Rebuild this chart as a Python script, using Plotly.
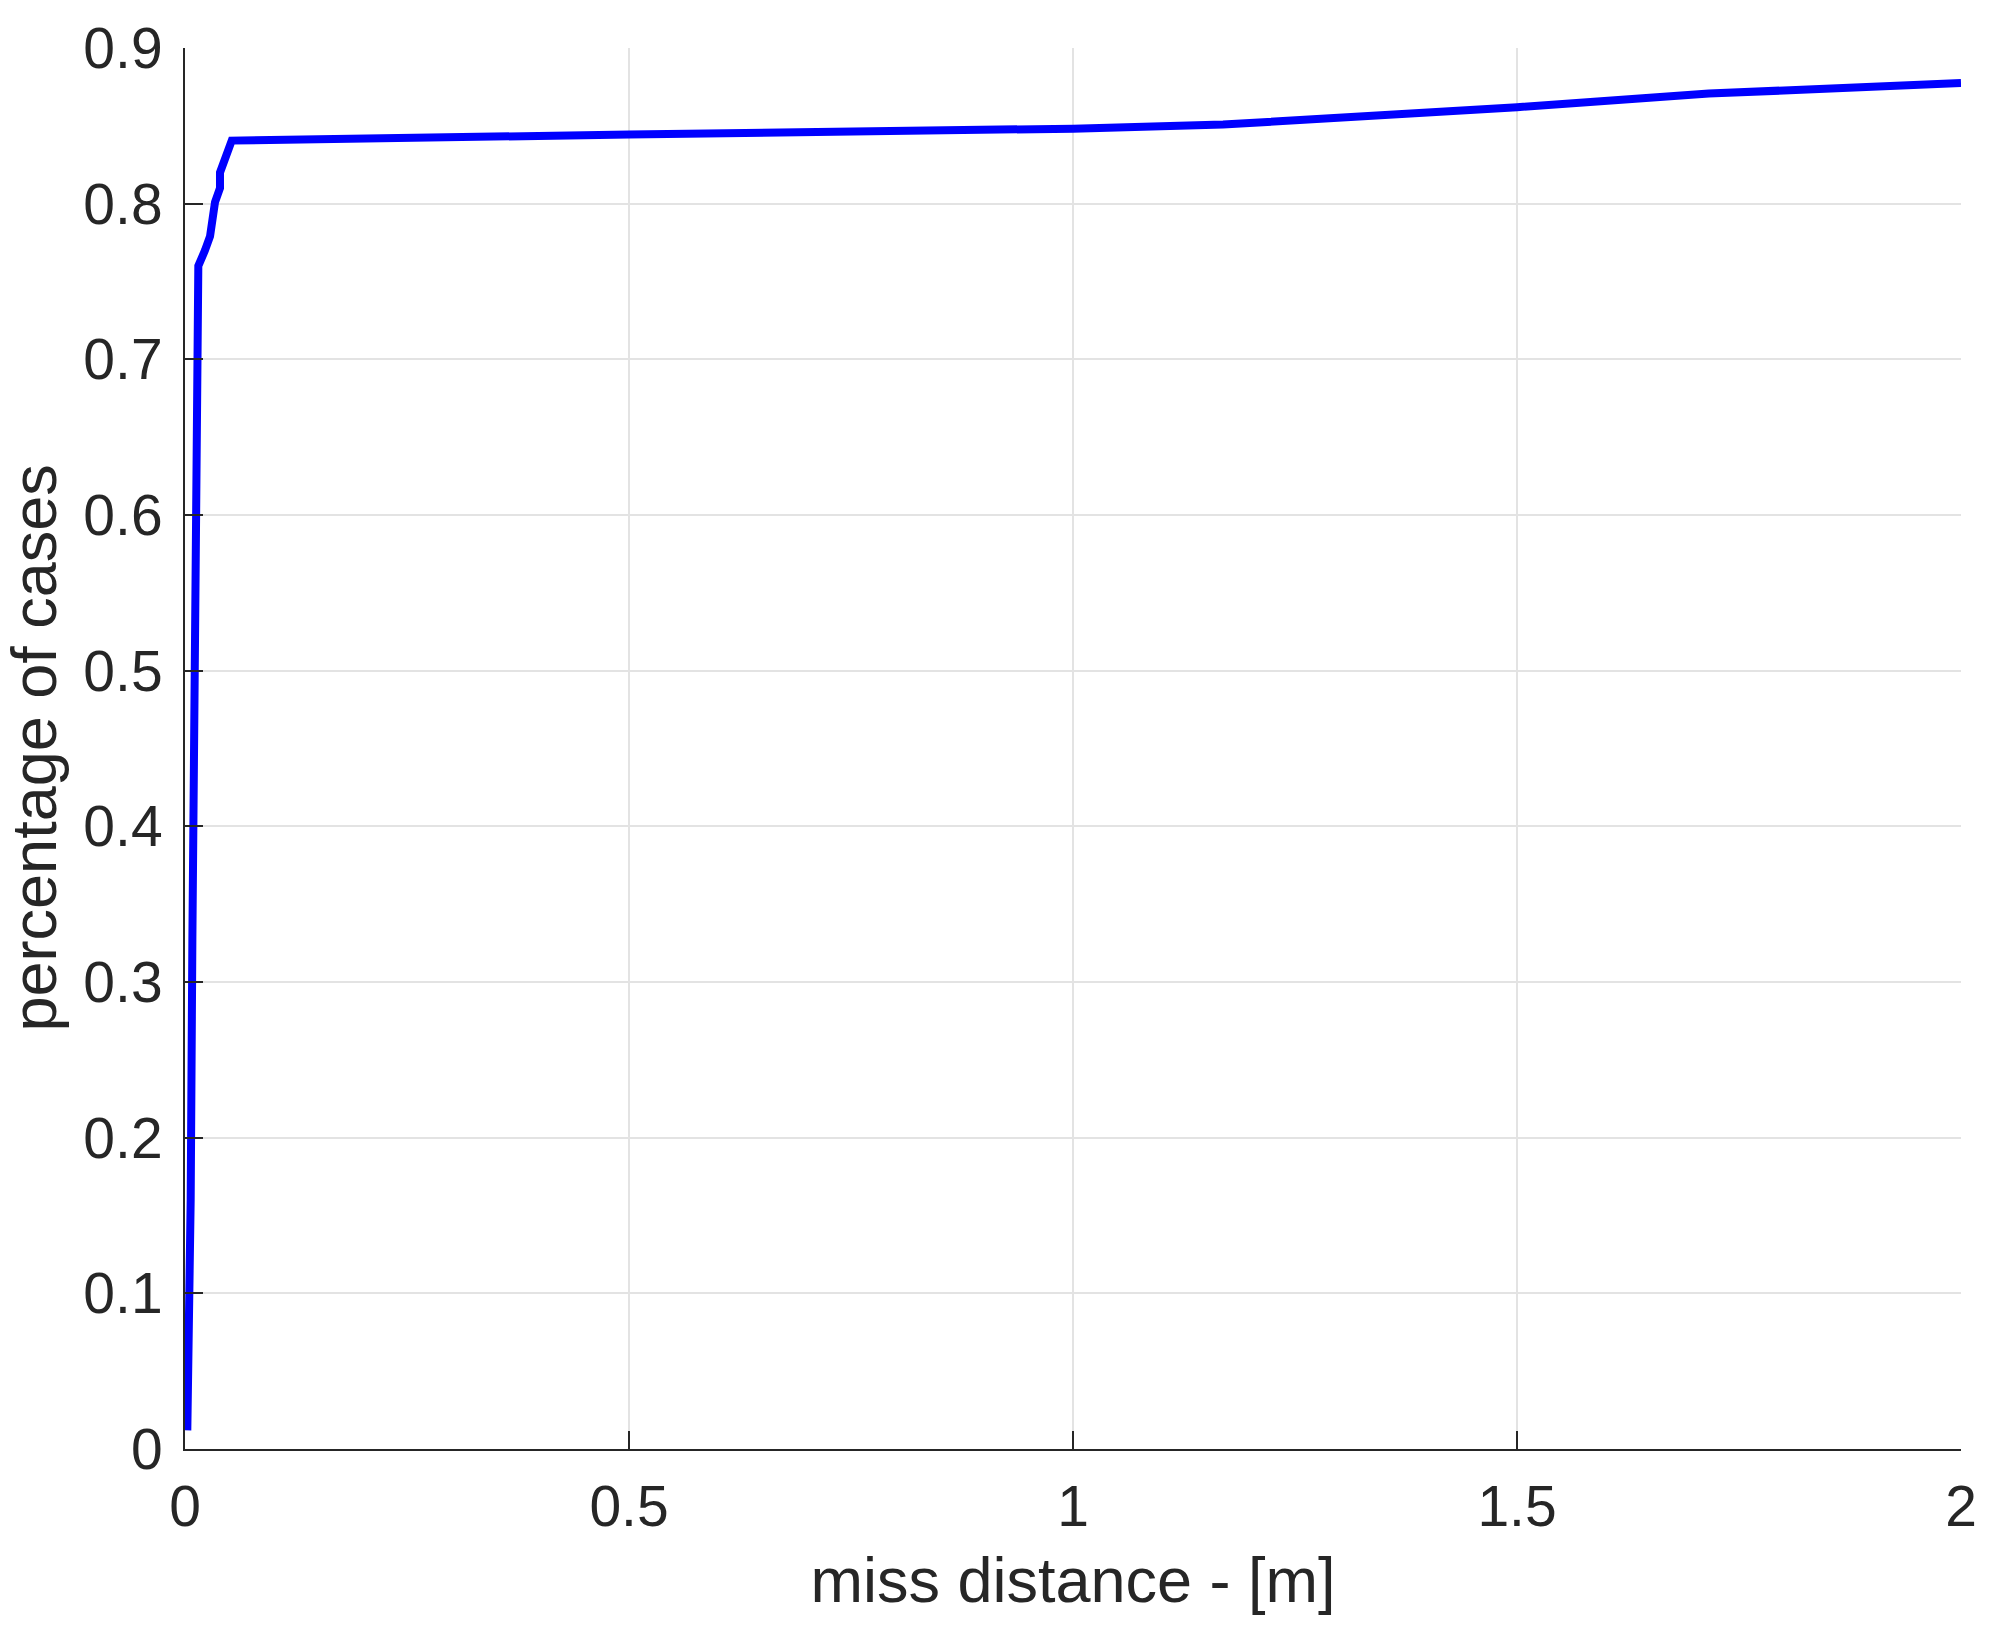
import plotly.graph_objects as go

# miss distance [m] vs. cumulative share of cases
miss_distance = [0.0026, 0.0033, 0.0049, 0.0064, 0.0083, 0.0100, 0.0113,
                 0.0122, 0.0132, 0.0150, 0.0225, 0.0282, 0.0338, 0.0394,
                 0.0394, 0.0450, 0.0526, 0.5, 1.0, 1.169, 1.5, 1.716, 2.0]
pct_cases = [0.012, 0.030, 0.100, 0.160, 0.327, 0.428, 0.520,
             0.600, 0.674, 0.760, 0.770, 0.779, 0.801, 0.810,
             0.820, 0.828, 0.8405, 0.8444, 0.8482, 0.8508, 0.8620, 0.8707, 0.8775]

x_ticks = [0, 0.5, 1, 1.5, 2]
x_labels = ["0", "0.5", "1", "1.5", "2"]
y_ticks = [0, 0.1, 0.2, 0.3, 0.4, 0.5, 0.6, 0.7, 0.8, 0.9]
y_labels = ["0", "0.1", "0.2", "0.3", "0.4", "0.5", "0.6", "0.7", "0.8", "0.9"]

FONT = "Liberation Sans, Helvetica, Arial, sans-serif"
TXT = "#262626"

fig = go.Figure(go.Scatter(
    x=miss_distance,
    y=pct_cases,
    mode="lines",
    line=dict(color="#0000ff", width=8),
    showlegend=False,
))

axis_common = dict(
    showline=True,
    linecolor=TXT,
    linewidth=2,
    mirror=False,
    ticks="inside",
    ticklen=18,
    tickwidth=2,
    tickcolor=TXT,
    showgrid=True,
    gridcolor="#e3e3e3",
    gridwidth=2,
    zeroline=False,
    automargin=False,
    tickfont=dict(family=FONT, size=57, color=TXT),
)

# the page body adds an 8px offset, so margins are trimmed to land the axes
fig.update_layout(
    width=2004,
    height=1628,
    paper_bgcolor="white",
    plot_bgcolor="white",
    margin=dict(l=177, r=51, t=40, b=187),
    xaxis=dict(
        range=[0, 2],
        tickmode="array",
        tickvals=x_ticks,
        ticktext=x_labels,
        ticklabelstandoff=7,
        title=dict(text="miss distance - [m]", font=dict(family=FONT, size=63, color=TXT), standoff=20),
        **axis_common,
    ),
    yaxis=dict(
        range=[0, 0.9],
        tickmode="array",
        tickvals=y_ticks,
        ticktext=y_labels,
        ticklabelstandoff=9,
        **axis_common,
    ),
)

# y title as annotation so it can sit further out than plotly's default
fig.add_annotation(
    text="percentage of cases",
    xref="paper", yref="paper",
    x=0, y=0.5,
    xanchor="center", yanchor="middle",
    xshift=-152,
    textangle=-90,
    showarrow=False,
    font=dict(family=FONT, size=63, color=TXT),
)

fig.write_html("out.html")
